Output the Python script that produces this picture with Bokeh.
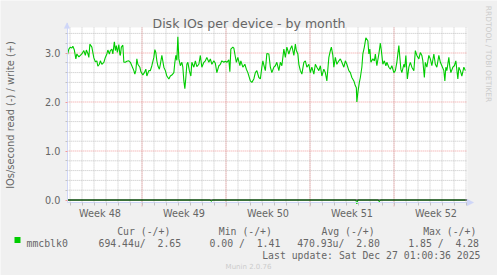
from bokeh.plotting import figure
from bokeh.models import (Range1d, FixedTicker, Label, PolyAnnotation, BoxAnnotation, LinearAxis,
                          CustomJSTickFormatter, NumeralTickFormatter)
from bokeh.embed import file_html
from bokeh.resources import INLINE

# ---------------- data ----------------
title = "Disk IOs per device - by month"
y_label = "IOs/second read (-) / write (+)"
device = "mmcblk0"
week_labels = ["Week 48", "Week 49", "Week 50", "Week 51", "Week 52"]
week_starts_h = [149.3, 317.3, 485.3, 653.3]   # week boundaries, hours since graph start
graph_span_h = 800                              # 400 px * 2 h
y_ticks = [0, 1, 2, 3]

write_h = [0, 3, 6, 9, 11, 14, 17, 19, 23, 26, 29, 33, 36, 38, 41, 43, 45, 47, 49, 53,
           56, 59, 61, 64, 66, 69, 73, 76, 79, 81, 84, 86, 89, 91, 94, 96, 98, 100, 103, 105,
           106, 108, 111, 113, 116, 119, 123, 126, 129, 133, 135, 137, 139, 141, 145, 147, 151, 154, 157, 159,
           163, 166, 169, 173, 175, 177, 179, 181, 184, 186, 189, 193, 196, 199, 203, 206, 209, 213, 215, 217,
           219, 221, 223, 226, 229, 231, 233, 235, 237, 239, 241, 244, 247, 249, 253, 256, 259, 263, 266, 269,
           273, 276, 279, 283, 286, 289, 293, 296, 299, 303, 306, 309, 313, 316, 319, 323, 325, 327, 331, 333,
           335, 338, 341, 345, 347, 351, 355, 358, 361, 366, 369, 373, 376, 379, 383, 386, 389, 391, 394, 396,
           399, 403, 406, 409, 413, 416, 419, 423, 426, 429, 433, 436, 439, 443, 446, 449, 453, 456, 458, 461,
           463, 466, 469, 473, 476, 479, 483, 486, 489, 493, 496, 499, 503, 506, 509, 513, 516, 519, 523, 526,
           528, 531, 533, 536, 539, 543, 546, 549, 553, 556, 559, 563, 566, 569, 573, 576, 578, 579, 581, 584,
           586, 589, 591, 594, 597, 601, 603, 605, 607, 611, 614, 616, 619, 623, 626, 628, 631, 634, 637, 639,
           643, 646, 649, 653, 656, 659, 663, 665, 667, 669, 673, 675, 677, 680, 683, 686, 689, 693, 696, 699,
           703, 706, 709, 711, 714, 716, 719, 723, 726, 729, 733, 736, 739, 743, 746, 749, 753, 755, 757, 759,
           763, 765, 767, 771, 774, 777, 781, 783, 786, 789, 793, 796]
write_v = [2.95, 3.08, 3.12, 3.10, 3.14, 3.06, 2.88, 2.98, 2.92, 2.95, 2.98, 3.05, 2.95, 3.06, 2.99, 2.91, 3.18, 3.15, 3.12, 2.90,
           2.82, 2.84, 2.73, 2.77, 2.84, 2.77, 2.81, 2.91, 2.98, 3.06, 2.98, 3.05, 3.08, 2.98, 3.23, 3.05, 3.15, 3.01, 3.17, 2.97,
           2.95, 3.12, 3.16, 2.81, 2.81, 2.83, 2.84, 2.81, 2.74, 2.64, 2.57, 2.64, 2.88, 2.77, 2.71, 2.62, 2.55, 2.60, 2.67, 2.53,
           2.64, 2.64, 2.74, 2.91, 3.07, 3.01, 2.84, 2.74, 2.67, 2.77, 2.95, 2.71, 2.64, 2.53, 2.47, 2.53, 2.55, 2.60, 2.81, 2.95,
           2.85, 3.33, 2.88, 2.74, 2.81, 2.71, 2.43, 2.27, 2.50, 2.77, 2.81, 2.64, 2.53, 2.81, 2.71, 2.84, 2.72, 2.77, 2.95, 2.71,
           2.81, 2.84, 2.91, 2.81, 2.88, 2.77, 2.84, 2.79, 2.60, 2.74, 2.77, 2.84, 2.81, 2.83, 2.81, 2.86, 2.62, 3.08, 3.12, 3.10,
           2.98, 2.81, 2.91, 2.74, 2.84, 2.71, 2.77, 2.67, 2.60, 2.43, 2.40, 2.47, 2.60, 2.64, 2.50, 2.47, 2.71, 2.84, 2.71, 2.64,
           2.99, 2.98, 2.71, 2.60, 2.71, 2.74, 2.81, 2.64, 2.81, 2.74, 3.08, 2.91, 3.12, 2.98, 3.08, 3.15, 2.95, 3.18, 3.05, 2.98,
           2.77, 2.64, 2.57, 2.81, 2.84, 2.71, 2.77, 2.60, 2.71, 2.57, 2.77, 2.71, 2.64, 2.74, 2.53, 2.67, 2.60, 2.43, 2.91, 3.05,
           3.12, 2.95, 2.71, 2.91, 2.77, 2.84, 2.88, 2.81, 2.71, 2.84, 2.77, 2.64, 2.60, 2.50, 2.43, 2.33, 2.29, 2.00, 2.19, 2.40,
           2.50, 2.71, 2.98, 3.12, 3.31, 3.25, 2.98, 3.08, 2.81, 2.88, 2.84, 2.98, 2.74, 2.98, 3.20, 3.05, 2.77, 2.84, 2.74, 2.81,
           2.71, 2.67, 2.74, 2.60, 2.64, 2.81, 3.15, 2.91, 2.67, 2.60, 2.77, 2.71, 2.95, 2.47, 2.71, 2.81, 2.71, 2.64, 3.05, 2.95,
           2.88, 3.01, 2.95, 2.84, 2.50, 2.81, 2.71, 2.95, 2.88, 2.74, 2.98, 2.77, 2.71, 2.95, 2.81, 2.74, 2.64, 2.43, 2.71, 2.64,
           2.91, 2.71, 2.60, 2.71, 2.74, 2.84, 2.47, 2.71, 2.64, 2.53, 2.71, 2.64]

# read (drawn negative); almost always ~0, a few short spikes below the zero line
read_h = [0, 286, 288, 290, 577, 579, 581, 622, 624, 626, 796]
read_v = [0.0007, 0.0007, 0.03, 0.0007, 0.0007, 0.08, 0.0007, 0.0007, 0.04, 0.0007, 0.0007]

stat_headers = ["Cur (-/+)", "Min (-/+)", "Avg (-/+)", "Max (-/+)"]
read_stats = ["694.44u", "0.00", "470.93u", "1.85"]
write_stats = ["2.65", "1.41", "2.80", "4.28"]
last_update = "Last update: Sat Dec 27 01:00:36 2025"
footer = "Munin 2.0.76"
watermark = "RRDTOOL / TOBI OETIKER"

# ---------------- layout / style constants ----------------
W, H = 497, 275
PX_PER_H = 0.5           # 2 hours per pixel
PX_PER_UNIT = 49.0
X0_PX = 66.85            # canvas x of graph start
Y0_PX = 199.5            # canvas y of value 0
Y_BOTTOM, Y_TOP = -0.05, 3.52   # extent of the white canvas
FONT = "DejaVu Sans"
MONO = "DejaVu Sans Mono"
TXT = "#666666"
AXIS = "#CFD6F8"
GRID = "#C2C2C2"
MGRID = "#F09A9A"
LINE = "#00CC00"

week_len = 168
week_mids = [week_starts_h[0] - week_len / 2] + [s + week_len / 2 for s in week_starts_h]
days = []
d = week_starts_h[0]
while d - 24 >= 0:
    d -= 24
while d <= graph_span_h:
    days.append(d)
    d += 24
y_minor = [round(i * 0.2, 1) for i in range(1, 18) if round(i * 0.2, 1) not in y_ticks]

x_start = -X0_PX / PX_PER_H
y_top = Y0_PX / PX_PER_UNIT
p = figure(width=W, height=H, output_backend="svg", toolbar_location=None,
           x_axis_location=None, y_axis_location=None,
           x_range=Range1d(x_start, x_start + W / PX_PER_H),
           y_range=Range1d(y_top - H / PX_PER_UNIT, y_top),
           min_border=0, min_border_left=0, min_border_right=0, min_border_top=0, min_border_bottom=0)
p.background_fill_color = "#F0F0F0"
p.border_fill_color = "#F0F0F0"
p.outline_line_color = None
p.grid.visible = False

# white canvas of the graph
p.quad(left=[0], right=[graph_span_h], bottom=[Y_BOTTOM], top=[Y_TOP], fill_color="#FFFFFF", line_color=None)

# grid lines
p.segment(x0=days, y0=[Y_BOTTOM] * len(days), x1=days, y1=[Y_TOP] * len(days),
          line_color=GRID, line_width=1, line_dash="1 1")
p.segment(x0=[0] * len(y_minor), y0=y_minor, x1=[graph_span_h] * len(y_minor), y1=y_minor,
          line_color=GRID, line_width=1, line_dash="1 1")
p.segment(x0=week_starts_h, y0=[Y_BOTTOM - 0.08] * len(week_starts_h), x1=week_starts_h,
          y1=[Y_TOP] * len(week_starts_h), line_color=MGRID, line_width=1, line_dash="1 1")
p.segment(x0=[0] * 3, y0=y_ticks[1:], x1=[graph_span_h] * 3, y1=y_ticks[1:],
          line_color=MGRID, line_width=1, line_dash="1 1")

# data
p.line(read_h, [-v for v in read_v], line_color=LINE, line_width=1)
p.line(write_h, write_v, line_color=LINE, line_width=1.1)
p.segment(x0=[0], y0=[0], x1=[graph_span_h], y1=[0], line_color="#000000", line_width=1)

# y axis
ya = LinearAxis(fixed_location=0, bounds=(Y_BOTTOM, Y_TOP))
ya.ticker = FixedTicker(ticks=y_ticks, minor_ticks=y_minor)
ya.formatter = NumeralTickFormatter(format="0.0")
ya.axis_line_color = AXIS
ya.major_tick_line_color = MGRID
ya.major_tick_out = 2
ya.major_tick_in = 0
ya.minor_tick_line_color = GRID
ya.minor_tick_out = 2
ya.minor_tick_in = 0
ya.major_label_standoff = 5
ya.major_label_text_font = FONT
ya.major_label_text_font_size = "9.7px"
ya.major_label_text_color = TXT
ya.axis_label = y_label
ya.axis_label_text_font = FONT
ya.axis_label_text_font_size = "9.9px"
ya.axis_label_text_font_style = "normal"
ya.axis_label_text_color = TXT
ya.axis_label_standoff = 26
p.add_layout(ya, "left")

# x axis
xa = LinearAxis(fixed_location=Y_BOTTOM, bounds=(0, graph_span_h))
xa.ticker = FixedTicker(ticks=week_mids, minor_ticks=days)
xa.formatter = CustomJSTickFormatter(args=dict(labels=week_labels), code="return labels[index]")
xa.axis_line_color = AXIS
xa.major_tick_line_color = None
xa.major_tick_out = 0
xa.major_tick_in = 0
xa.minor_tick_line_color = GRID
xa.minor_tick_out = 3
xa.minor_tick_in = 0
xa.major_label_standoff = 3
xa.major_label_text_font = FONT
xa.major_label_text_font_size = "9.7px"
xa.major_label_text_color = TXT
p.add_layout(xa, "below")


def cy_(cy):
    return H - cy


# arrows of the axes
p.add_layout(PolyAnnotation(xs=[63.5, 69.5, 66.5], ys=[cy_(28), cy_(28), cy_(22)],
                            xs_units="screen", ys_units="screen", fill_color=AXIS, fill_alpha=1,
                            line_color=AXIS, line_width=0.5))
p.add_layout(PolyAnnotation(xs=[466.5, 466.5, 473.5], ys=[cy_(198.5), cy_(205.5), cy_(202)],
                            xs_units="screen", ys_units="screen", fill_color=AXIS, fill_alpha=1,
                            line_color=AXIS, line_width=0.5))
p.add_layout(BoxAnnotation(left=66.4, right=67.4, top=cy_(27), bottom=cy_(22.5),
                           left_units="screen", right_units="screen", top_units="screen",
                           bottom_units="screen", fill_color=AXIS, fill_alpha=1, line_color=None))


def text(t, cx, cy, size, font=FONT, color=TXT, align="left", baseline="alphabetic", angle=0):
    p.add_layout(Label(x=cx, y=cy_(cy), x_units="screen", y_units="screen", text=t,
                       text_font=font, text_font_size=f"{size}px", text_color=color,
                       text_align=align, text_baseline=baseline, angle=angle))


text(title, 248.5, 22.5, 12.5, align="center")
text(watermark, 488, 53.5, 7.5, color="#CCCCCC", align="center", baseline="middle", angle=-1.5708)

# legend
header_x = [116.7, 218.3, 321, 422.7]
col_x = [98, 209, 296.7, 407.7]
for hx, hdr in zip(header_x, stat_headers):
    text(hdr, hx, 230.8, 9.8, font=MONO)
p.add_layout(BoxAnnotation(left=14, right=20, top=cy_(236.5), bottom=cy_(242.5),
                           left_units="screen", right_units="screen", top_units="screen", bottom_units="screen",
                           fill_color=LINE, fill_alpha=1, line_color=None))
text(device, 26, 243.3, 9.8, font=MONO)
for cx, r, w in zip(col_x, read_stats, write_stats):
    sep = "/" if r[-1].isalpha() else " /"
    text(f"{r}{sep}\u00a0\u00a0{w}", cx, 243.3, 9.8, font=MONO)
text(last_update, 261.7, 255.3, 9.8, font=MONO)
text(footer, 248, 266, 7, color="#CCCCCC", align="center")

open("out.html", "w").write(file_html(p, INLINE))
